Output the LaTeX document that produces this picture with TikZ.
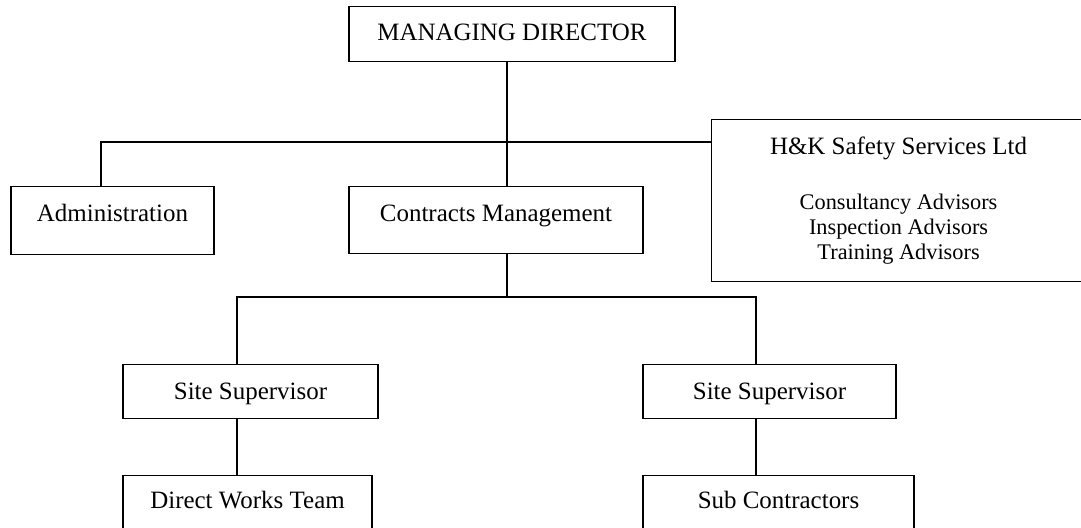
\documentclass[tikz,border=0pt]{standalone}
\usepackage{fontspec}
\setmainfont{Liberation Serif}
\usepackage{tikz}
\definecolor{inkblack}{RGB}{0,0,0}
\newcommand{\boxsize}{\fontsize{14.2}{17}\selectfont}
\newcommand{\listsize}{\fontsize{12.7}{14.23}\selectfont}
\tikzset{
  orgbox/.style={draw=inkblack,line width=0.7pt,inner sep=0pt,anchor=north,
    font=\boxsize,text height=0.7cm},
  safetybox/.style={draw=inkblack,line width=0.7pt,inner sep=0pt,
    anchor=north west,text width=7.48cm,align=flush center,
    minimum height=3.24cm,font=\fontsize{14.2}{14.23}\selectfont},
  link/.style={draw=inkblack,line width=0.7pt}
}

\begin{document}
\begin{tikzpicture}[x=0.02cm,y=-0.02cm]
  \useasboundingbox (0,0) rectangle (1081,527);
  \clip (0,0) rectangle (1081,527);
  \node[orgbox,minimum width=6.52cm,text height=0.68cm,text depth=0.42cm]
    (director) at (512,6) {MANAGING DIRECTOR};
  \node[orgbox,minimum width=4.06cm,text depth=0.66cm]
    (admin) at (112.5,186) {Administration};
  \node[orgbox,minimum width=5.88cm,text depth=0.64cm]
    (contracts) at (496,186) {Contracts Management};
  \node[safetybox] (safety) at (711,119)
    {H\&K Safety Services Ltd\\[17pt]{\listsize Consultancy Advisors\\
     Inspection Advisors\\Training Advisors}};
  \node[orgbox,minimum width=5.1cm,text depth=0.38cm]
    (superleft) at (250.5,364) {Site Supervisor};
  \node[orgbox,minimum width=5.06cm,text depth=0.38cm]
    (superright) at (769.5,364) {Site Supervisor};
  \node[orgbox,minimum width=4.98cm,text height=0.66cm,text depth=0.8cm]
    (directworks) at (247.5,475) {Direct Works Team};
  \node[orgbox,minimum width=5.42cm,text height=0.66cm,text depth=0.8cm]
    (subcon) at (778.5,475) {Sub Contractors};
  \coordinate (trunk) at (507,142);
  \coordinate (adminturn) at (101,142);
  \coordinate (branch) at (507,297);
  \coordinate (leftturn) at (237,297);
  \coordinate (rightturn) at (756,297);
  \draw[link] (director.south -| trunk) -- (contracts.north -| trunk);
  \draw[link] (admin.north -| adminturn) -- (adminturn) -- (safety.west |- trunk);
  \draw[link] (contracts.south -| branch) -- (branch);
  \draw[link] (superleft.north -| leftturn) -- (leftturn) -- (rightturn)
    -- (superright.north -| rightturn);
  \draw[link] (superleft.south -| leftturn) -- (directworks.north -| leftturn);
  \draw[link] (superright.south -| rightturn) -- (subcon.north -| rightturn);
\end{tikzpicture}
\end{document}
